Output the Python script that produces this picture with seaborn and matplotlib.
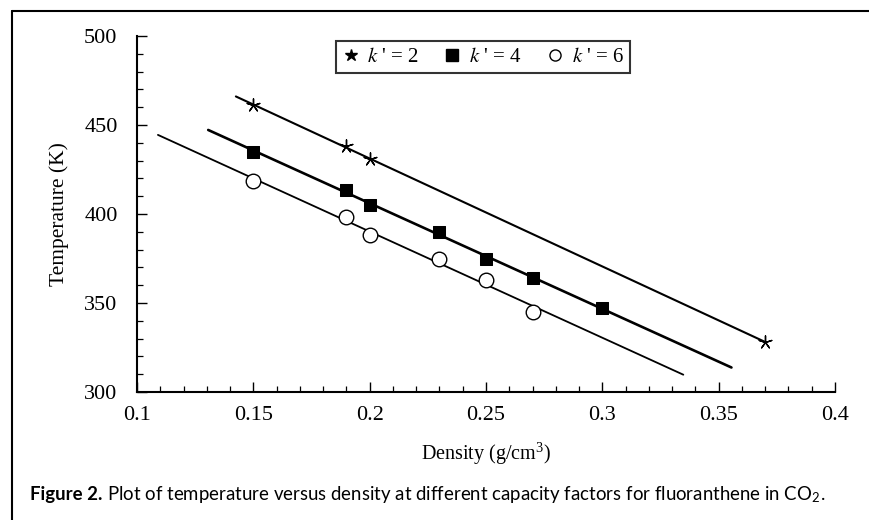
import numpy as np
import pandas as pd
import seaborn as sns
import matplotlib
matplotlib.use("Agg")
import matplotlib.pyplot as plt
from matplotlib.lines import Line2D
from matplotlib.ticker import MultipleLocator, FuncFormatter

# ---------------- data ----------------
k2_density = [0.15, 0.19, 0.20, 0.37]
k2_temp = [461, 438, 431, 328]
k4_density = [0.15, 0.19, 0.20, 0.23, 0.25, 0.27, 0.30]
k4_temp = [435, 413.5, 405, 390, 375, 364, 347]
k6_density = [0.15, 0.19, 0.20, 0.23, 0.25, 0.27]
k6_temp = [418.5, 398.5, 388, 374.5, 362.7, 345]
# x-range covered by each fitted line
fit_start = [0.1425, 0.1306, 0.109]
fit_end = [0.370, 0.3555, 0.3348]
series_labels = [r"$k$ ' = 2", r"$k$ ' = 4", r"$k$ ' = 6"]
x_ticks = [0.1, 0.15, 0.2, 0.25, 0.3, 0.35, 0.4]
y_ticks = [300, 350, 400, 450, 500]
x_label = "Density (g/cm$^{\\mathregular{3}}$)"
y_label = "Temperature (K)"
caption_bold = "Figure 2."
caption_rest = "Plot of temperature versus density at different capacity factors for fluoranthene in CO$_{\\mathregular{2}}$."

sns.set_theme(style="white")
plt.rcParams["font.family"] = ["Liberation Serif", "DejaVu Serif"]
plt.rcParams["mathtext.fontset"] = "stix"

fig = plt.figure(figsize=(8.7, 5.2), dpi=100)
fig.patch.set_facecolor("white")
ax = fig.add_axes([137 / 870, 1 - 392 / 520, (835 - 137) / 870, (392 - 36) / 520])
ax.set_facecolor("white")

series = [
    (k2_density, k2_temp, dict(marker=(5, 2, 0), s=90, color="black", linewidth=1.0), 1.5),
    (k4_density, k4_temp, dict(marker="s", s=85, color="black", edgecolor="black"), 1.9),
    (k6_density, k6_temp, dict(marker="o", s=110, facecolor="white", edgecolor="black", linewidth=1.0), 1.3),
]

for i, (xd, yd, mk, lw) in enumerate(series):
    slope, icpt = np.polyfit(xd, yd, 1)
    xs = np.array([fit_start[i], fit_end[i]])
    df_line = pd.DataFrame({"x": xs, "y": slope * xs + icpt})
    sns.lineplot(data=df_line, x="x", y="y", ax=ax, color="black", linewidth=lw, legend=False)
    df_pts = pd.DataFrame({"x": xd, "y": yd})
    sns.scatterplot(data=df_pts, x="x", y="y", ax=ax, zorder=3, legend=False, **mk)

ax.set_xlim(0.1, 0.4)
ax.set_ylim(300, 500)
ax.set_xticks(x_ticks)
ax.set_yticks(y_ticks)
ax.xaxis.set_minor_locator(MultipleLocator(0.01))
ax.yaxis.set_minor_locator(MultipleLocator(10))
ax.xaxis.set_major_formatter(FuncFormatter(lambda v, p: "%g" % round(v, 3)))
ax.tick_params(axis="both", which="major", direction="in", length=7.5, width=1.0,
               labelsize=16, color="black", labelcolor="black")
ax.tick_params(axis="both", which="minor", direction="in", length=4, width=0.9, color="black")
ax.tick_params(axis="x", which="both", bottom=True, top=False, pad=10)
ax.tick_params(axis="y", which="both", left=True, right=False, pad=14)
for side in ["top", "right"]:
    ax.spines[side].set_visible(False)
for side in ["left", "bottom"]:
    ax.spines[side].set_color("black")
    ax.spines[side].set_linewidth(1.5)

ax.set_xlabel(x_label, fontsize=14.5, color="black", labelpad=11)
ax.set_ylabel(y_label, fontsize=15.5, color="black", labelpad=11)

handles = [
    Line2D([], [], ls="none", marker="*", markersize=9, color="black"),
    Line2D([], [], ls="none", marker="s", markersize=8, color="black"),
    Line2D([], [], ls="none", marker="o", markersize=8, mfc="white", mec="black", mew=1.0),
]
leg = ax.legend(handles, series_labels, loc="upper center", bbox_to_anchor=(0.496, 0.985),
                ncol=3, fontsize=15, frameon=True, fancybox=False, edgecolor="black",
                handlelength=0.8, handletextpad=0.4, columnspacing=1.2,
                borderpad=0.3, borderaxespad=0.0)
leg.get_frame().set_linewidth(1.5)
for t in leg.get_texts():
    t.set_color("black")

# caption
cap_font = ["Lato", "DejaVu Sans"]
cap_size = 13.4
t1 = fig.text(30 / 870, 1 - 500 / 520, caption_bold, fontsize=cap_size, fontweight="bold",
              family=cap_font, va="baseline", ha="left", color="black")
fig.canvas.draw()
bb = t1.get_window_extent()
fig.text((bb.x1 + 5) / fig.bbox.width, 1 - 500 / 520, caption_rest, fontsize=cap_size,
         family=cap_font, color="black", va="baseline", ha="left")

# outer frame (cropped: only top and left edges visible)
fig.add_artist(Line2D([12 / 870, 1.0], [1 - 11 / 520, 1 - 11 / 520], transform=fig.transFigure,
                      color="black", linewidth=1.5))
fig.add_artist(Line2D([12 / 870, 12 / 870], [0.0, 1 - 11 / 520], transform=fig.transFigure,
                      color="black", linewidth=1.5))

fig.savefig("out.png", dpi=100, facecolor="white")
